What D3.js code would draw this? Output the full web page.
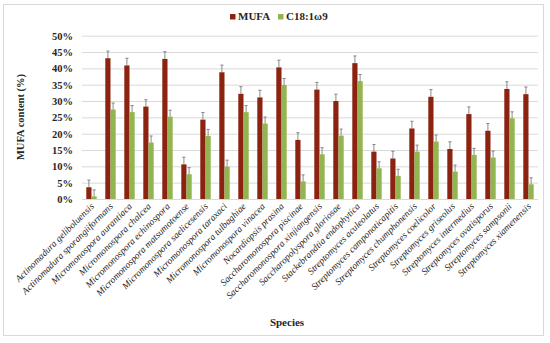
<!DOCTYPE html>
<html>
<head>
<meta charset="utf-8">
<script src="https://cdn.jsdelivr.net/npm/d3@7"></script>
<style>
  body { margin: 0; background: #fff; }
  svg text { font-family: 'Liberation Serif', 'DejaVu Serif', serif; fill: #262626; }
</style>
</head>
<body>
<script>
var species = [
  'Actinomadura geliboluensis', 'Actinomadura sporangiiformans',
  'Micromonospora aurantiaca', 'Micromonospora chalcea',
  'Micromonospora echinospora', 'Micromonospora matsumotoense',
  'Micromonospora saelicesensis', 'Micromonospora taraxaci',
  'Micromonospora tulbaghiae', 'Micromonospora vinacea',
  'Nocardiopsis prasina', 'Saccharomonospora piscinae',
  'Saccharomonospora xinjiangensis', 'Saccharopolyspora gloriosae',
  'Stackebrandtia endophytica', 'Streptomyces aculeolatus',
  'Streptomyces camponoticapitis', 'Streptomyces chumphonensis',
  'Streptomyces coelicolor', 'Streptomyces griseolus',
  'Streptomyces intermedius', 'Streptomyces ovatisporus',
  'Streptomyces sampsonii', 'Streptomyces xiamenensis'
];

var mufa    = [3.6, 43.1, 40.9, 28.3, 42.9, 10.6, 24.3, 38.8, 32.2, 31.1, 40.3, 18.1,
               33.5, 30.0, 41.6, 14.5, 12.4, 21.6, 31.3, 15.3, 26.0, 20.9, 33.7, 32.1];
var mufaErr = [2.2, 2.2, 2.2, 2.1, 2.2, 2.2, 2.2, 2.2, 2.2, 2.2, 2.2, 2.2,
               2.2, 2.1, 2.2, 2.2, 2.2, 2.2, 2.2, 2.2, 2.2, 2.2, 2.2, 2.2];
var c18     = [0.8, 27.4, 26.6, 17.3, 25.2, 7.6, 19.3, 9.9, 26.6, 23.1, 34.9, 5.4,
               13.7, 19.4, 36.1, 9.4, 7.1, 14.5, 17.6, 8.4, 13.5, 12.7, 24.7, 4.5];
var c18Err  = [2.0, 2.0, 2.0, 2.0, 2.0, 2.0, 2.0, 2.0, 2.0, 2.0, 2.0, 2.0,
               2.0, 2.0, 2.0, 2.0, 2.0, 2.0, 2.0, 2.0, 2.0, 2.0, 2.0, 2.0];

var seriesNames = ['MUFA', 'C18:1\u03c99'];
var yTicks = [0, 5, 10, 15, 20, 25, 30, 35, 40, 45, 50];

var w = 550, h = 343;
var plotLeft = 82, plotRight = 538, plotTop = 35.7, plotBottom = 199;
var colors = ['#8b2310', '#92b451'];

var svg = d3.select('body').append('svg')
  .attr('width', w)
  .attr('height', h);

// outer frame
svg.append('rect')
  .attr('x', 3.5).attr('y', 4.5)
  .attr('width', 540).attr('height', 331)
  .attr('fill', '#fff')
  .attr('stroke', '#d9d9d9');

var x = d3.scaleBand().domain(species).range([plotLeft, plotRight]);
var barW = 5.2;
var y = d3.scaleLinear().domain([0, 50]).range([plotBottom, plotTop]);

// gridlines + y labels
var yAxis = svg.append('g')
  .attr('transform', 'translate(' + plotLeft + ',0)')
  .call(d3.axisLeft(y).tickValues(yTicks).tickSize(-(plotRight - plotLeft)).tickPadding(9)
    .tickFormat(function(d) { return d + '%'; }));
yAxis.select('.domain').remove();
yAxis.selectAll('line').attr('stroke', '#d9d9d9');
yAxis.selectAll('text')
  .style('font-size', '10.5px')
  .style('font-weight', 'bold')
  .attr('fill', '#262626');

var series = [
  { name: seriesNames[0], vals: mufa, err: mufaErr, off: -barW },
  { name: seriesNames[1], vals: c18, err: c18Err, off: 0 }
];

series.forEach(function(s, si) {
  svg.append('g').selectAll('rect')
    .data(s.vals)
    .enter()
    .append('rect')
      .attr('x', function(d, i) { return x(species[i]) + x.bandwidth() / 2 + s.off; })
      .attr('y', function(d) { return y(d); })
      .attr('width', barW)
      .attr('height', function(d) { return plotBottom - y(d); })
      .attr('fill', colors[si]);

  // error bars
  var eg = svg.append('g').attr('stroke', '#6f6f6f').attr('stroke-width', 0.8);
  s.vals.forEach(function(d, i) {
    var cx = x(species[i]) + x.bandwidth() / 2 + s.off + barW / 2;
    var y1 = y(d), y2 = y(d + s.err[i]);
    eg.append('line').attr('x1', cx).attr('x2', cx).attr('y1', y1).attr('y2', y2);
    eg.append('line').attr('x1', cx - 1.6).attr('x2', cx + 1.6).attr('y1', y2).attr('y2', y2);
  });
});

// x labels
svg.append('g').selectAll('.xlab')
  .data(species)
  .enter()
  .append('text')
    .text(function(d) { return d; })
    .attr('text-anchor', 'end')
    .attr('transform', function(d) {
      return 'translate(' + (x(d) + x.bandwidth() / 2 + 3) + ',' + (plotBottom + 8) + ') rotate(-45)';
    })
    .style('font-size', '9.5px')
    .style('font-style', 'italic');

// axis titles
svg.append('text')
  .text('Species')
  .attr('x', 287).attr('y', 326)
  .attr('text-anchor', 'middle')
  .style('font-size', '11px')
  .style('font-weight', 'bold');

svg.append('text')
  .text('MUFA content (%)')
  .attr('text-anchor', 'middle')
  .attr('transform', 'translate(24,117) rotate(-90)')
  .style('font-size', '10.5px')
  .style('font-weight', 'bold');

// legend
var legendX = [230, 278];
var legend = svg.append('g').selectAll('.leg')
  .data(series)
  .enter()
  .append('g')
    .attr('transform', function(d, i) { return 'translate(' + legendX[i] + ',14)'; });
legend.append('rect')
  .attr('width', 5.5).attr('height', 5.5)
  .attr('fill', function(d, i) { return colors[i]; });
legend.append('text')
  .text(function(d) { return d.name; })
  .attr('x', 8).attr('y', 6)
  .style('font-size', '11px')
  .style('font-weight', 'bold');
</script>
</body>
</html>
